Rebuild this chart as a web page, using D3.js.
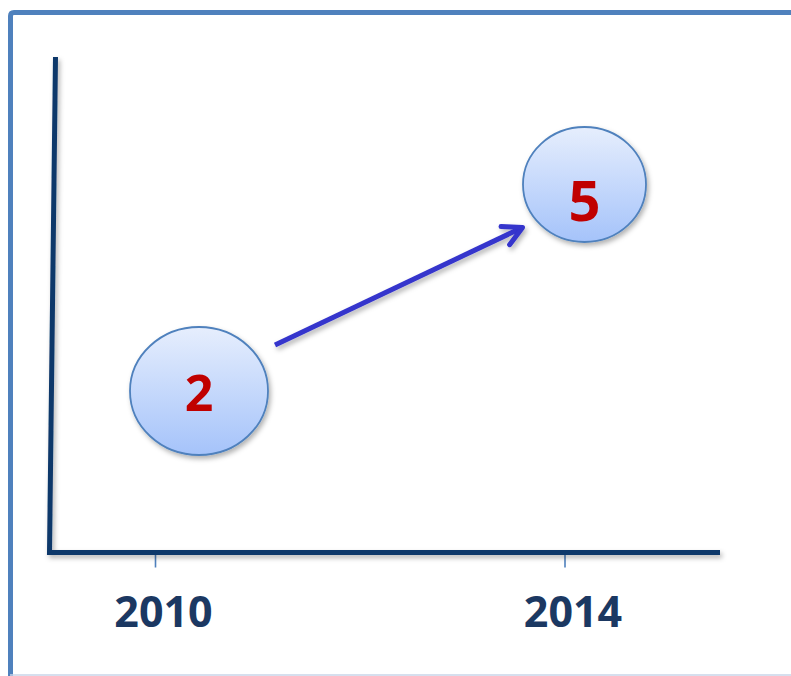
<!DOCTYPE html>
<html>
<head>
<meta charset="utf-8">
<script src="https://cdn.jsdelivr.net/npm/d3@7/dist/d3.min.js"></script>
<style>
  html, body { margin: 0; padding: 0; background: #ffffff; }
  svg { display: block; }
</style>
</head>
<body>
<div id="chart"></div>
<script>
// Chart data.
var years  = [2010, 2014];
var values = [2, 5];
var tickLabels = ["2010", "2014"];

// Layout (not data).
var width = 791, height = 676;
var axisY = 552.5;
var bubbleRx = [69, 61.5];
var bubbleRy = [64, 57.5];
var numberSize = [50, 56];
var numberDy = [20, 36];

var svg = d3.select("#chart").append("svg")
    .attr("width", width)
    .attr("height", height);

var defs = svg.append("defs");

// Soft shadow used by the axes, arrow and bubbles.
var shadow = defs.append("filter").attr("id", "shadow")
    .attr("x", "-20%").attr("y", "-20%").attr("width", "140%").attr("height", "150%");
shadow.append("feDropShadow")
    .attr("dx", 2).attr("dy", 3).attr("stdDeviation", 2.5)
    .attr("flood-color", "#000").attr("flood-opacity", 0.3);

var grad = defs.append("linearGradient").attr("id", "bubbleFill")
    .attr("x1", 0).attr("y1", 0).attr("x2", 0).attr("y2", 1);
grad.append("stop").attr("offset", "0%").attr("stop-color", "#e6eefd");
grad.append("stop").attr("offset", "100%").attr("stop-color", "#a5c3fa");

defs.append("marker").attr("id", "head")
    .attr("markerUnits", "userSpaceOnUse")
    .attr("viewBox", "-24 -14 30 28")
    .attr("markerWidth", 30).attr("markerHeight", 28)
    .attr("refX", 0).attr("refY", 0)
    .attr("orient", "auto")
  .append("path")
    .attr("d", "M-19,-10 L0,0 L-19,10")
    .attr("fill", "none")
    .attr("stroke", "#3434cc")
    .attr("stroke-width", 5)
    .attr("stroke-linecap", "round")
    .attr("stroke-linejoin", "round");

// Frame: blue top and left edge, faint bottom edge.
svg.append("path")
    .attr("d", "M10.5," + height + " L10.5,16 Q10.5,12.5 14,12.5 L" + (width + 5) + ",12.5")
    .attr("fill", "none")
    .attr("stroke", "#4f81bd")
    .attr("stroke-width", 5);
svg.append("line")
    .attr("x1", 10).attr("x2", width).attr("y1", 675).attr("y2", 675)
    .attr("stroke", "#c9d5e8").attr("stroke-width", 1.5);

// Scales.
var xTicks = d3.scaleLinear().domain(d3.extent(years)).range([155, 564.5]);
var xBubble = d3.scaleLinear().domain(d3.extent(years)).range([199, 584.5]);
var y = d3.scaleLinear().domain(d3.extent(values)).range([391, 184.5]);

// Tick marks and year labels.
var xAxis = d3.axisBottom(xTicks)
    .tickValues(years)
    .tickFormat(function(d, i) { return tickLabels[i]; })
    .tickSize(15)
    .tickSizeOuter(0);

var gx = svg.append("g")
    .attr("transform", "translate(0," + axisY + ")")
    .call(xAxis);
gx.select(".domain").remove();
gx.selectAll(".tick line")
    .attr("stroke", "#4f81bd")
    .attr("stroke-width", 1.6);
gx.selectAll(".tick text")
    .attr("y", 627 - axisY)
    .attr("dy", 0)
    .attr("dx", 8)
    .attr("fill", "#1b3862")
    .style("font-family", "'Open Sans', sans-serif")
    .style("font-weight", "bold")
    .style("font-size", "43px");

// Axis lines (hand drawn look: y axis leans slightly).
svg.append("path")
    .attr("d", "M55.5,57 L49.5,552.5 L720,552.5")
    .attr("fill", "none")
    .attr("stroke", "#0f386a")
    .attr("stroke-width", 5)
    .attr("stroke-linejoin", "miter")
    .attr("filter", "url(#shadow)");

// Arrow from the first bubble to the second.
var p0 = [xBubble(years[0]) + 76, y(values[0]) - 46];
var p1 = [xBubble(years[1]) - 62, y(values[1]) + 43];
svg.append("line")
    .attr("x1", p0[0]).attr("y1", p0[1])
    .attr("x2", p1[0]).attr("y2", p1[1])
    .attr("stroke", "#3434cc")
    .attr("stroke-width", 5)
    .attr("marker-end", "url(#head)")
    .attr("filter", "url(#shadow)");

// Bubbles.
var bubbles = svg.selectAll(".bubble")
    .data(values).enter().append("g")
    .attr("class", "bubble");

bubbles.append("ellipse")
    .attr("cx", function(d, i) { return xBubble(years[i]); })
    .attr("cy", function(d) { return y(d); })
    .attr("rx", function(d, i) { return bubbleRx[i]; })
    .attr("ry", function(d, i) { return bubbleRy[i]; })
    .attr("fill", "url(#bubbleFill)")
    .attr("stroke", "#4f81bd")
    .attr("stroke-width", 1.8)
    .attr("filter", "url(#shadow)");

bubbles.append("text")
    .attr("x", function(d, i) { return xBubble(years[i]); })
    .attr("y", function(d, i) { return y(d) + numberDy[i]; })
    .attr("text-anchor", "middle")
    .attr("fill", "#c00000")
    .style("font-family", "'Open Sans', sans-serif")
    .style("font-weight", "bold")
    .style("font-size", function(d, i) { return numberSize[i] + "px"; })
    .text(function(d) { return d; });
</script>
</body>
</html>
